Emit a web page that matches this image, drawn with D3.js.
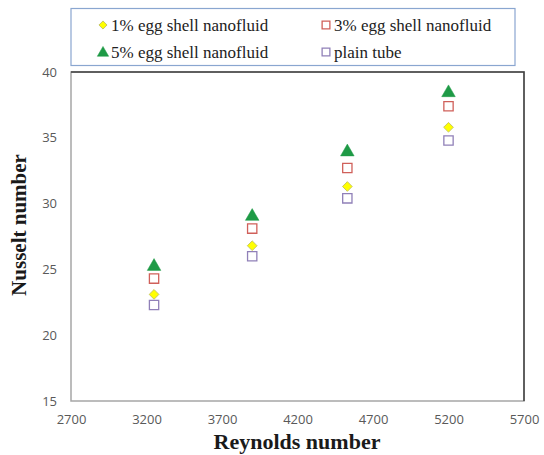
<!DOCTYPE html>
<html><head><meta charset="utf-8">
<script src="https://cdn.jsdelivr.net/npm/d3@7"></script>
<style>body{margin:0;background:#fff}</style>
</head><body>
<svg id="c" width="544" height="455"></svg>
<script>
const reynolds = [3250, 3900, 4530, 5200];
const egg1 = [23.1, 26.8, 31.3, 35.8];
const egg3 = [24.3, 28.1, 32.7, 37.4];
const egg5 = [25.3, 29.1, 34.0, 38.5];
const plain = [22.3, 26.0, 30.4, 34.8];
const xTicks = [2700, 3200, 3700, 4200, 4700, 5200, 5700];
const yTicks = [15, 20, 25, 30, 35, 40];
const seriesNames = ["1% egg shell nanofluid", "3% egg shell nanofluid", "5% egg shell nanofluid", "plain tube"];

const svg = d3.select("#c");
const L = 71, R = 524, T = 72, B = 401;
const x = d3.scaleLinear().domain([2700, 5700]).range([L, R]);
const y = d3.scaleLinear().domain([15, 40]).range([B, T]);

// plot border
svg.append("rect").attr("x", L).attr("y", T).attr("width", R - L).attr("height", B - T)
  .attr("fill", "#fff").attr("stroke", "#a6a6a6").attr("stroke-width", 1.5);
svg.append("path").attr("d", `M${L},${T}H${R}V${B}`).attr("fill", "none").attr("stroke", "#404040").attr("stroke-width", 1.5);

// axes
const xa = svg.append("g").attr("transform", `translate(0,${B})`)
  .call(d3.axisBottom(x).tickValues(xTicks).tickSize(0).tickPadding(14).tickFormat(d3.format("d")));
xa.select(".domain").remove();
xa.attr("font-size", 13).attr("font-family", "Open Sans, sans-serif");
xa.selectAll("text").attr("fill", "#595959");
const ya = svg.append("g").attr("transform", `translate(${L},0)`)
  .call(d3.axisLeft(y).tickValues(yTicks).tickSize(0).tickPadding(14));
ya.select(".domain").remove();
ya.attr("font-size", 13).attr("font-family", "Open Sans, sans-serif");
ya.selectAll("text").attr("fill", "#595959");

// titles
svg.append("text").attr("x", 297).attr("y", 449).attr("text-anchor", "middle")
  .attr("font-family", "Liberation Serif, serif").attr("font-weight", "bold").attr("font-size", 22)
  .attr("fill", "#1a1a1a").text("Reynolds number");
svg.append("text").attr("transform", "translate(26,225) rotate(-90)").attr("text-anchor", "middle")
  .attr("font-family", "Liberation Serif, serif").attr("font-weight", "bold").attr("font-size", 21)
  .attr("fill", "#1a1a1a").text("Nusselt number");

// marker styles
const styles = [
  {type: d3.symbolDiamond2, size: 60, fill: "#ffff00", stroke: "#c8c860", sw: 1, dy: 0},
  {type: d3.symbolSquare2, size: 110, fill: "#fff", stroke: "#d0605a", sw: 1.3, dy: 0},
  {type: d3.symbolTriangle, size: 80, fill: "#1e9a46", stroke: "#1e9a46", sw: 0.5, dy: 1},
  {type: d3.symbolSquare2, size: 110, fill: "#fff", stroke: "#9080b8", sw: 1.3, dy: 0}
];
const allSeries = [egg1, egg3, egg5, plain];

function drawSym(g, s, cx, cy, scale) {
  g.append("path").attr("d", d3.symbol().type(s.type).size(s.size * (scale || 1))())
    .attr("transform", `translate(${cx},${cy + s.dy})`)
    .attr("fill", s.fill).attr("stroke", s.stroke).attr("stroke-width", s.sw);
}

// draw order: plain, egg1, egg3, egg5
const order = [3, 1, 0, 2];
order.forEach(si => {
  const g = svg.append("g");
  allSeries[si].forEach((v, i) => drawSym(g, styles[si], x(reynolds[i]), y(v)));
});

// legend
svg.append("rect").attr("x", 71).attr("y", 8.5).attr("width", 444).attr("height", 57)
  .attr("fill", "#fff").attr("stroke", "#8aa6d0").attr("stroke-width", 1.2);
const legPos = [[103, 25], [326, 25], [103, 52], [326, 52]];
seriesNames.forEach((n, i) => {
  const g = svg.append("g");
  const [lx, ly] = legPos[i];
  drawSym(g, styles[i], lx, ly, 0.7);
  g.append("text").attr("x", lx + 8).attr("y", ly + 5.5)
    .attr("font-family", "Liberation Serif, serif").attr("font-size", 17).attr("fill", "#222").text(n);
});
</script>
</body></html>
